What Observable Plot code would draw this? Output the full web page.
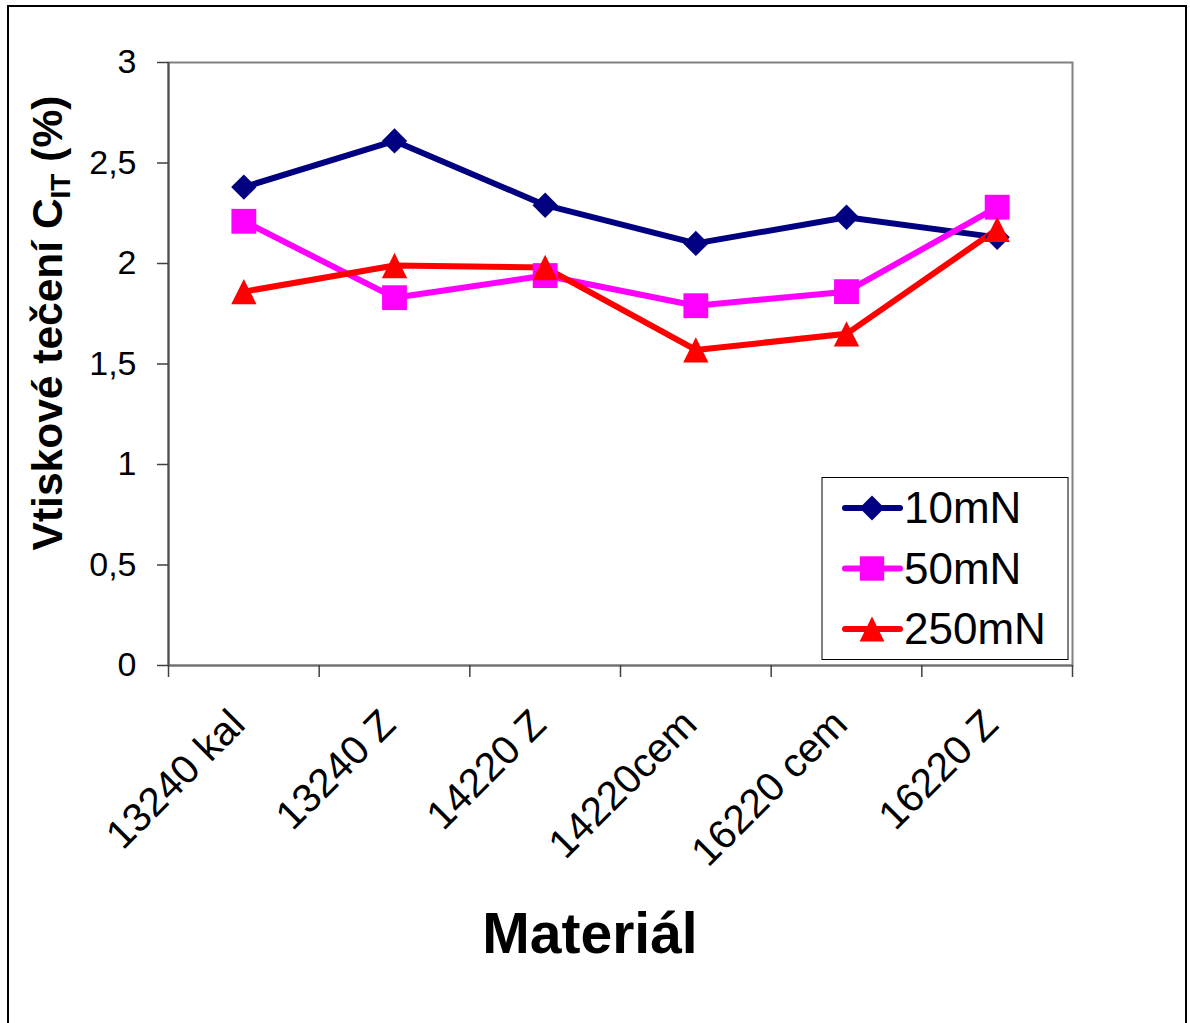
<!DOCTYPE html>
<html>
<head>
<meta charset="utf-8">
<script src="https://cdn.jsdelivr.net/npm/d3@7"></script>
<script src="https://cdn.jsdelivr.net/npm/@observablehq/plot@0.6"></script>
<style>
  html, body { margin: 0; padding: 0; background: #fff; overflow: hidden; }
  #wrap { position: relative; width: 1190px; height: 1023px; overflow: hidden; }
  #border { position: absolute; left: 7px; top: 5px; width: 1176px; height: 1040px; border: 2.5px solid #000; pointer-events: none; }
  svg { font-family: "Liberation Sans", Arial, sans-serif; }
</style>
</head>
<body>
<div id="wrap"><div id="border"></div></div>
<script>
// ---- data ----
const categories = ["13240 kal", "13240 Z", "14220 Z", "14220cem", "16220 cem", "16220 Z"];
const seriesNames = ["10mN", "50mN", "250mN"];
const values10 = [2.38, 2.61, 2.29, 2.10, 2.23, 2.13];
const values50 = [2.21, 1.83, 1.94, 1.79, 1.86, 2.28];
const values250 = [1.86, 1.99, 1.98, 1.57, 1.65, 2.17];
const yTicks = [0, 0.5, 1, 1.5, 2, 2.5, 3];
const seriesColors = ["#000080", "#FF00FF", "#FF0000"];
const yTitle = ["Vtiskové tečení C", "IT", " (%)"];
const xTitle = "Materiál";

// ---- symbols (centered on bounding box) ----
const diamond = {draw(c, size) { const h = Math.sqrt(size) / 2; c.moveTo(0, -h); c.lineTo(h, 0); c.lineTo(0, h); c.lineTo(-h, 0); c.closePath(); }};
const square = {draw(c, size) { const h = Math.sqrt(size) / 2 * 0.98; c.moveTo(-h, -h); c.lineTo(h, -h); c.lineTo(h, h); c.lineTo(-h, h); c.closePath(); }};
const triangle = {draw(c, size) { const h = Math.sqrt(size) / 2; c.moveTo(0, -h); c.lineTo(h, h); c.lineTo(-h, h); c.closePath(); }};
const seriesSymbols = [diamond, square, triangle];

const allValues = [values10, values50, values250];
const rows = [];
seriesNames.forEach((s, si) => allValues[si].forEach((v, i) => rows.push({i, category: categories[i], series: s, value: v})));

const idx = d3.range(categories.length);
const boundaries = d3.range(categories.length + 1).map(k => k - 0.5);
const fmt = d => String(d).replace(".", ",");

const chart = Plot.plot({
  width: 1190,
  height: 1023,
  marginLeft: 168,
  marginRight: 118,
  marginTop: 62,
  marginBottom: 358,
  style: {fontFamily: '"Liberation Sans", Arial, sans-serif', background: "transparent", color: "#000"},
  x: {type: "linear", domain: [-0.5, categories.length - 0.5]},
  y: {domain: [0, 3]},
  color: {domain: seriesNames, range: seriesColors},
  symbol: {domain: seriesNames, range: seriesSymbols},
  marks: [
    Plot.frame({stroke: "#808080", strokeWidth: 2}),
    Plot.ruleY([0], {stroke: "#707070", strokeWidth: 2}),
    Plot.ruleX([-0.5], {stroke: "#505050", strokeWidth: 2}),
    Plot.axisY({ticks: yTicks, tickSize: 11, tickPadding: 21, tickFormat: fmt, fontSize: 34, label: null, stroke: "#404040", strokeWidth: 1.5}),
    Plot.axisX({ticks: boundaries, tickSize: 12, tickFormat: () => "", label: null, stroke: "#404040", strokeWidth: 1.5}),
    Plot.axisX({ticks: idx, tickSize: 0, tickPadding: 52, tickRotate: -45, tickFormat: i => categories[i], fontSize: 40.5, dx: -6, label: null}),
    Plot.line(rows, {x: "i", y: "value", z: "series", stroke: "series", strokeWidth: 6}),
    Plot.dot(rows, {x: "i", y: "value", symbol: "series", fill: "series", stroke: "none", r: 14.3})
  ]
});

document.getElementById("wrap").prepend(chart);
const svg = d3.select(chart);

// y title
const yt = svg.append("text")
  .attr("transform", "translate(62,323) rotate(-90)")
  .attr("text-anchor", "middle")
  .attr("font-weight", "bold")
  .attr("font-size", 42.5)
  .attr("fill", "#000");
yt.append("tspan").text(yTitle[0]);
yt.append("tspan").attr("font-size", 28).attr("dy", 8).text(yTitle[1]);
yt.append("tspan").attr("dy", -8).text(yTitle[2]);

// x title
svg.append("text")
  .attr("x", 590).attr("y", 953)
  .attr("text-anchor", "middle")
  .attr("font-weight", "bold")
  .attr("font-size", 57)
  .attr("fill", "#000")
  .text(xTitle);

// legend
const lg = svg.append("g").attr("text-anchor", "start");
lg.append("rect").attr("x", 822).attr("y", 477.5).attr("width", 246).attr("height", 182)
  .attr("fill", "#fff").attr("stroke", "#000").attr("stroke-width", 1);
seriesNames.forEach((s, k) => {
  const cy = 508 + k * 60.5;
  lg.append("line").attr("x1", 845).attr("x2", 900).attr("y1", cy).attr("y2", cy)
    .attr("stroke", seriesColors[k]).attr("stroke-width", 6).attr("stroke-linecap", "round");
  lg.append("path").attr("transform", `translate(872,${cy})`)
    .attr("d", d3.symbol().type(seriesSymbols[k]).size(620)())
    .attr("fill", seriesColors[k]);
  lg.append("text").attr("x", 904).attr("y", cy + 15).attr("text-anchor", "start")
    .attr("font-size", 44).attr("fill", "#000").text(s);
});
</script>
</body>
</html>
